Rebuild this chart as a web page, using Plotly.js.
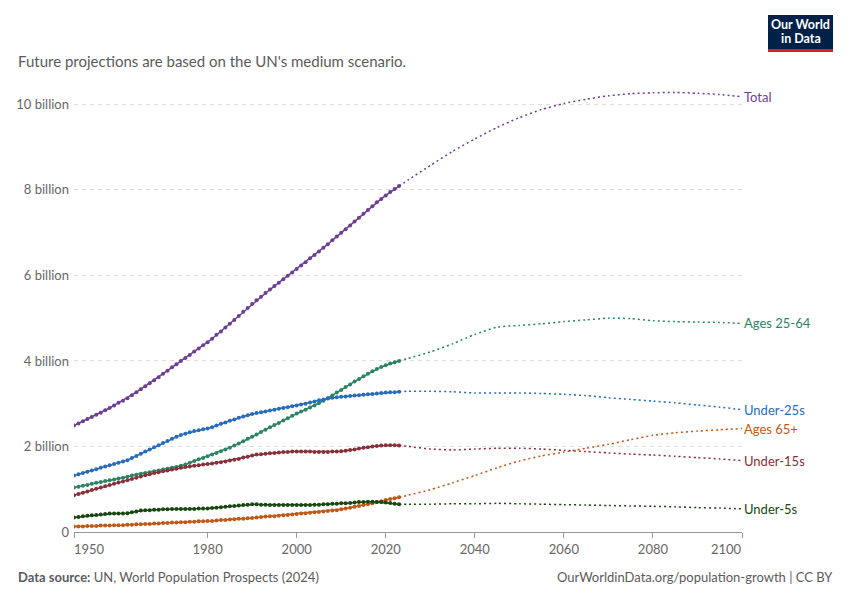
<!DOCTYPE html>
<html>
<head>
<meta charset="utf-8">
<script src="https://cdn.plot.ly/plotly-3.0.1.min.js"></script>
<style>
  html, body { margin: 0; padding: 0; background: #fff; }
  #chart { width: 850px; height: 600px; }
</style>
</head>
<body>
<div id="chart"></div>
<script>
// ---------- DATA (billions) ----------
const histYears = Array.from({length: 74}, (_, i) => 1950 + i); // 1950..2023
const projYears = [2023,2025,2030,2035,2040,2045,2050,2055,2060,2065,2070,2075,2080,2085,2090,2095,2100];

const totalHist = [2.49,2.54,2.59,2.64,2.69,2.74,2.79,2.85,2.90,2.96,
  3.02,3.07,3.13,3.20,3.27,3.34,3.41,3.48,3.55,3.62,
  3.70,3.77,3.85,3.92,4.00,4.07,4.14,4.22,4.29,4.37,
  4.44,4.52,4.61,4.69,4.78,4.87,4.96,5.05,5.15,5.24,
  5.33,5.42,5.50,5.59,5.67,5.75,5.83,5.91,5.99,6.07,
  6.15,6.23,6.31,6.40,6.48,6.56,6.65,6.73,6.82,6.91,
  7.00,7.08,7.17,7.26,7.35,7.44,7.53,7.62,7.71,7.79,
  7.87,7.95,8.02,8.09];
const totalProj = [8.09,8.23,8.57,8.90,9.19,9.46,9.69,9.88,10.02,10.12,10.20,10.25,10.27,10.28,10.26,10.23,10.18];

const age2564Hist = [1.04,1.06,1.08,1.10,1.13,1.15,1.17,1.19,1.21,1.23,
  1.25,1.27,1.29,1.32,1.34,1.36,1.38,1.40,1.42,1.44,
  1.46,1.48,1.50,1.52,1.55,1.58,1.62,1.66,1.70,1.73,
  1.77,1.81,1.85,1.89,1.93,1.97,2.02,2.07,2.12,2.18,
  2.23,2.28,2.34,2.39,2.45,2.50,2.55,2.61,2.66,2.72,
  2.77,2.82,2.86,2.91,2.96,3.01,3.07,3.13,3.19,3.26,
  3.32,3.39,3.45,3.52,3.58,3.64,3.70,3.76,3.81,3.86,
  3.90,3.94,3.97,4.00];
const age2564Proj = [4.00,4.06,4.21,4.40,4.62,4.79,4.83,4.87,4.92,4.96,5.00,4.99,4.94,4.92,4.91,4.90,4.88];

const under25Hist = [1.32,1.35,1.38,1.41,1.44,1.47,1.50,1.53,1.56,1.59,
  1.62,1.65,1.68,1.73,1.78,1.83,1.88,1.93,1.98,2.03,
  2.08,2.13,2.18,2.23,2.27,2.30,2.33,2.36,2.38,2.40,
  2.42,2.45,2.49,2.53,2.56,2.60,2.63,2.67,2.70,2.73,
  2.76,2.78,2.80,2.82,2.84,2.86,2.88,2.90,2.92,2.94,
  2.96,2.98,3.00,3.03,3.05,3.08,3.10,3.12,3.14,3.15,
  3.16,3.17,3.18,3.19,3.20,3.21,3.22,3.23,3.24,3.25,
  3.26,3.27,3.27,3.28];
const under25Proj = [3.28,3.29,3.29,3.28,3.25,3.25,3.25,3.24,3.22,3.19,3.14,3.10,3.06,3.02,2.97,2.92,2.86];

const age65Hist = [0.13,0.13,0.13,0.14,0.14,0.14,0.15,0.15,0.15,0.16,
  0.16,0.16,0.17,0.17,0.18,0.18,0.19,0.19,0.20,0.20,
  0.21,0.21,0.22,0.22,0.23,0.23,0.24,0.24,0.25,0.25,
  0.26,0.26,0.27,0.28,0.28,0.29,0.30,0.31,0.31,0.32,
  0.33,0.34,0.35,0.36,0.37,0.37,0.38,0.39,0.40,0.41,
  0.42,0.43,0.44,0.45,0.46,0.47,0.48,0.49,0.50,0.51,
  0.53,0.55,0.57,0.59,0.61,0.63,0.65,0.67,0.70,0.72,
  0.75,0.77,0.79,0.81];
const age65Proj = [0.81,0.86,0.99,1.15,1.32,1.50,1.66,1.78,1.87,1.96,2.05,2.16,2.26,2.32,2.36,2.39,2.42];

const under15Hist = [0.86,0.89,0.92,0.95,0.98,1.01,1.04,1.07,1.10,1.13,
  1.16,1.18,1.21,1.24,1.27,1.30,1.33,1.35,1.38,1.40,
  1.42,1.44,1.46,1.48,1.50,1.52,1.53,1.55,1.56,1.58,
  1.59,1.60,1.62,1.63,1.65,1.67,1.69,1.71,1.74,1.76,
  1.79,1.81,1.82,1.83,1.84,1.85,1.86,1.87,1.87,1.88,
  1.88,1.88,1.88,1.88,1.87,1.87,1.87,1.87,1.88,1.88,
  1.89,1.90,1.92,1.93,1.95,1.97,1.98,2.00,2.01,2.02,
  2.03,2.03,2.03,2.02];
const under15Proj = [2.02,2.00,1.94,1.92,1.94,1.96,1.96,1.94,1.91,1.88,1.85,1.82,1.80,1.77,1.74,1.71,1.67];

const under5Hist = [0.34,0.35,0.37,0.38,0.39,0.40,0.41,0.42,0.43,0.43,
  0.43,0.43,0.44,0.46,0.48,0.50,0.51,0.51,0.52,0.52,
  0.53,0.53,0.54,0.54,0.54,0.54,0.54,0.54,0.55,0.55,
  0.55,0.56,0.57,0.58,0.59,0.60,0.61,0.62,0.63,0.64,
  0.65,0.65,0.64,0.64,0.63,0.63,0.63,0.63,0.63,0.63,
  0.63,0.63,0.63,0.63,0.64,0.64,0.65,0.65,0.66,0.66,
  0.67,0.67,0.68,0.69,0.70,0.70,0.71,0.71,0.70,0.70,
  0.69,0.68,0.66,0.65];
const under5Proj = [0.65,0.65,0.65,0.66,0.66,0.67,0.66,0.65,0.64,0.63,0.62,0.61,0.60,0.59,0.57,0.56,0.54];

const seriesNames = ["Total", "Ages 25-64", "Under-25s", "Ages 65+", "Under-15s", "Under-5s"];

const yTickVals = [0, 2, 4, 6, 8, 10];
const yTickText = ["0", "2 billion", "4 billion", "6 billion", "8 billion", "10 billion"];
const xTickVals = [1950, 1980, 2000, 2020, 2040, 2060, 2080, 2100];
const xTickText = ["1950", "1980", "2000", "2020", "2040", "2060", "2080", "2100"];

// ---------- STYLES ----------
const series = [
  {name: seriesNames[0], hist: totalHist,   proj: totalProj,   color: "#6D3E91"},
  {name: seriesNames[1], hist: age2564Hist, proj: age2564Proj, color: "#2C8465"},
  {name: seriesNames[2], hist: under25Hist, proj: under25Proj, color: "#286BBB"},
  {name: seriesNames[3], hist: age65Hist,   proj: age65Proj,   color: "#C05917"},
  {name: seriesNames[4], hist: under15Hist, proj: under15Proj, color: "#883039"},
  {name: seriesNames[5], hist: under5Hist,  proj: under5Proj,  color: "#18470F"}
];

const FONT = "Lato, 'Open Sans', sans-serif";
const traces = [];
const annotations = [];
series.forEach(s => {
  traces.push({
    x: projYears, y: s.proj, type: "scatter", mode: "lines",
    line: {color: s.color, width: 1.5, dash: "2px,3px", shape: "spline", smoothing: 0.6},
    hoverinfo: "skip", showlegend: false
  });
  traces.push({
    x: histYears, y: s.hist, type: "scatter", mode: "lines+markers",
    line: {color: s.color, width: 1.5},
    marker: {color: s.color, size: 4},
    hoverinfo: "skip", showlegend: false
  });
  annotations.push({
    x: projYears[projYears.length - 1], y: s.proj[s.proj.length - 1],
    xref: "x", yref: "y", xanchor: "left", yanchor: "middle", xshift: 0,
    text: s.name, showarrow: false,
    font: {family: FONT, size: 13, color: s.color}
  });
});

// edge x tick labels (aligned like the original)
annotations.push({
  x: xTickVals[0], y: 0, xref: "x", yref: "paper", xanchor: "left", yanchor: "top",
  yshift: -7, xshift: -2, text: xTickText[0], showarrow: false,
  font: {family: FONT, size: 13, color: "#666"}
});
annotations.push({
  x: xTickVals[xTickVals.length - 1], y: 0, xref: "x", yref: "paper", xanchor: "right", yanchor: "top",
  yshift: -7, xshift: 2, text: xTickText[xTickText.length - 1], showarrow: false,
  font: {family: FONT, size: 13, color: "#666"}
});

// subtitle
const L = 74, T = 83, PW = 668, PH = 449;
const px = v => (v - L) / PW;
const py = v => (T + PH - v) / PH;
annotations.push({
  x: px(16), y: py(61), xref: "paper", yref: "paper", xanchor: "left", yanchor: "middle",
  text: "Future projections are based on the UN's medium scenario.", showarrow: false,
  font: {family: FONT, size: 15, color: "#5b5b5b"}
});
// footer
annotations.push({
  x: px(16), y: py(577), xref: "paper", yref: "paper", xanchor: "left", yanchor: "middle",
  text: "<b>Data source:</b> UN, World Population Prospects (2024)", showarrow: false,
  font: {family: FONT, size: 13, color: "#5b5b5b"}
});
annotations.push({
  x: px(835), y: py(577), xref: "paper", yref: "paper", xanchor: "right", yanchor: "middle",
  text: "OurWorldinData.org/population-growth | CC BY", showarrow: false,
  font: {family: FONT, size: 13, color: "#5b5b5b"}
});
// logo text
annotations.push({
  x: px(800.5), y: py(24.5), xref: "paper", yref: "paper", xanchor: "center", yanchor: "middle",
  text: "<b>Our World</b>", showarrow: false,
  font: {family: FONT, size: 12.5, color: "#ffffff"}
});
annotations.push({
  x: px(800.5), y: py(38), xref: "paper", yref: "paper", xanchor: "center", yanchor: "middle",
  text: "<b>in Data</b>", showarrow: false,
  font: {family: FONT, size: 12.5, color: "#ffffff"}
});

const shapes = [
  {type: "rect", xref: "paper", yref: "paper", x0: px(768), x1: px(833), y0: py(52), y1: py(15),
   fillcolor: "#002147", line: {width: 0}, layer: "below"},
  {type: "rect", xref: "paper", yref: "paper", x0: px(768), x1: px(833), y0: py(52), y1: py(49),
   fillcolor: "#CE261E", line: {width: 0}, layer: "below"}
];

const layout = {
  width: 850, height: 600,
  margin: {l: L, r: 850 - L - PW, t: T, b: 600 - T - PH, pad: 0},
  paper_bgcolor: "#fff", plot_bgcolor: "#fff",
  font: {family: FONT, size: 13, color: "#666"},
  showlegend: false,
  xaxis: {
    range: [1950, 2100], tickvals: xTickVals,
    ticktext: xTickText.map((t, i) => (i === 0 || i === xTickText.length - 1) ? "" : t),
    showgrid: false, zeroline: false,
    showline: true, linecolor: "#999", linewidth: 1,
    ticks: "outside", ticklen: 5, tickcolor: "#999",
    tickfont: {family: FONT, size: 13, color: "#666"},
    fixedrange: true
  },
  yaxis: {
    range: [0, 10.5], tickvals: yTickVals, ticktext: yTickText,
    showgrid: true, gridcolor: "#dddddd", griddash: "4px,4px", gridwidth: 1,
    zeroline: false, showline: false, ticks: "",
    tickfont: {family: FONT, size: 13, color: "#666"},
    ticklabelstandoff: 4,
    fixedrange: true
  },
  annotations: annotations,
  shapes: shapes
};

Plotly.newPlot("chart", traces, layout, {staticPlot: true, displayModeBar: false});
</script>
</body>
</html>
